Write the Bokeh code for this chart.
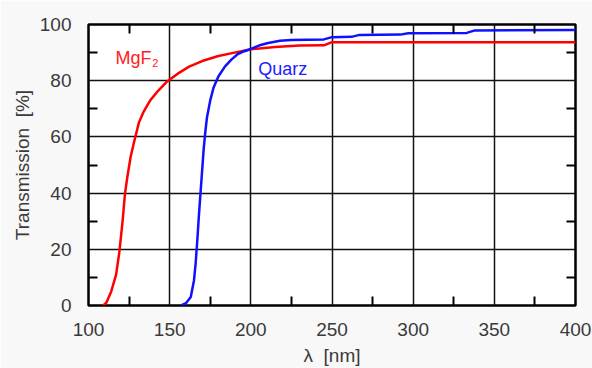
from bokeh.plotting import figure
from bokeh.models import FixedTicker, LinearAxis, Label, Range1d
from bokeh.embed import file_html
from bokeh.resources import INLINE

# MgF2 transmission curve
mgf2_nm = [109, 111, 114, 117, 119, 121, 122.5, 124, 126, 128, 131, 134, 138, 143, 148,
           155, 162, 170, 180, 190, 200, 215, 230, 245, 250, 300, 350, 400]
mgf2_T = [0, 1, 5, 11, 19, 30, 40, 46, 53, 58, 65, 69, 73, 76.5, 79.5,
          82.5, 85, 87, 88.8, 90, 91.2, 92, 92.5, 92.6, 93.7, 93.7, 93.7, 93.7]

# Quartz transmission curve
quarz_nm = [157, 160, 163, 165, 166, 167, 168, 169, 170, 171, 172, 173, 175, 177, 180,
            184, 188, 192, 196, 200, 205, 210, 218, 225, 235, 245, 250, 262, 267,
            292, 297, 333, 338, 400]
quarz_T = [0, 0.8, 3, 9, 15, 23, 32, 40, 48, 56, 62, 67, 73, 77.5, 81.5,
           85, 87.5, 89.5, 90.5, 91.3, 92.5, 93.3, 94.2, 94.5, 94.6, 94.7, 95.5, 95.6, 96.3,
           96.4, 96.9, 97.0, 97.9, 98]

x_ticks = [100, 150, 200, 250, 300, 350, 400]
x_minor = [125, 175, 225, 275, 325, 375]
y_ticks = [0, 20, 40, 60, 80, 100]
y_minor = [10, 30, 50, 70, 90]

FONT = "Liberation Sans"
TXT = "#3a3a3a"
NB = "\u00a0"

p = figure(width=592, height=368, output_backend="svg", toolbar_location=None,
           x_range=Range1d(100, 400), y_range=Range1d(0, 100),
           min_border_left=88, min_border_right=17, min_border_top=24, min_border_bottom=63)
p.background_fill_color = "white"
p.border_fill_color = "#f8f8f8"
p.outline_line_color = "black"
p.outline_line_width = 2.5

xt = FixedTicker(ticks=x_ticks, minor_ticks=x_minor)
yt = FixedTicker(ticks=y_ticks, minor_ticks=y_minor)

for ax in (p.xaxis[0], p.yaxis[0]):
    ax.axis_line_color = None
    ax.major_tick_in = 0
    ax.major_tick_out = 0
    ax.minor_tick_in = 9
    ax.minor_tick_out = 0
    ax.minor_tick_line_color = "black"
    ax.minor_tick_line_width = 2
    ax.major_label_text_font = FONT
    ax.major_label_text_font_size = "19px"
    ax.major_label_text_color = TXT
    ax.axis_label_text_font = FONT
    ax.axis_label_text_font_size = "19px"
    ax.axis_label_text_font_style = "normal"
    ax.axis_label_text_color = TXT

p.xaxis[0].ticker = xt
p.yaxis[0].ticker = yt
p.xaxis[0].axis_label = "λ" + NB + NB + "[nm]"
p.yaxis[0].axis_label = "Transmission" + NB + NB + "[%]"
p.xaxis[0].major_label_standoff = 17
p.yaxis[0].major_label_standoff = 17
p.xaxis[0].axis_label_standoff = 6
p.yaxis[0].axis_label_standoff = 4

# top and right axes: only inward minor ticks, no labels
for loc, minors in (("above", x_minor), ("right", y_minor)):
    ax = LinearAxis(ticker=FixedTicker(ticks=[], minor_ticks=minors))
    ax.axis_line_color = None
    ax.major_tick_in = 0
    ax.major_tick_out = 0
    ax.minor_tick_in = 9
    ax.minor_tick_out = 0
    ax.minor_tick_line_color = "black"
    ax.minor_tick_line_width = 2
    ax.major_label_standoff = 0
    p.add_layout(ax, loc)

p.xgrid.ticker = xt
p.ygrid.ticker = yt
for g in (p.xgrid[0], p.ygrid[0]):
    g.grid_line_color = "#111111"
    g.grid_line_width = 1.5

p.line(mgf2_nm, mgf2_T, line_color="#ff0000", line_width=2.5)
p.line(quarz_nm, quarz_T, line_color="#1010ff", line_width=2.5)

p.add_layout(Label(x=116.6, y=88, text="MgF", text_font=FONT, text_font_size="18px",
                   text_color="#ff2020", text_baseline="middle"))
p.add_layout(Label(x=139.3, y=86.2, text="2", text_font=FONT, text_font_size="11px",
                   text_color="#ff2020", text_baseline="middle"))
p.add_layout(Label(x=204.5, y=84.3, text="Quarz", text_font=FONT, text_font_size="18px",
                   text_color="#2020ff", text_baseline="middle"))

open("out.html", "w").write(file_html(p, INLINE))
